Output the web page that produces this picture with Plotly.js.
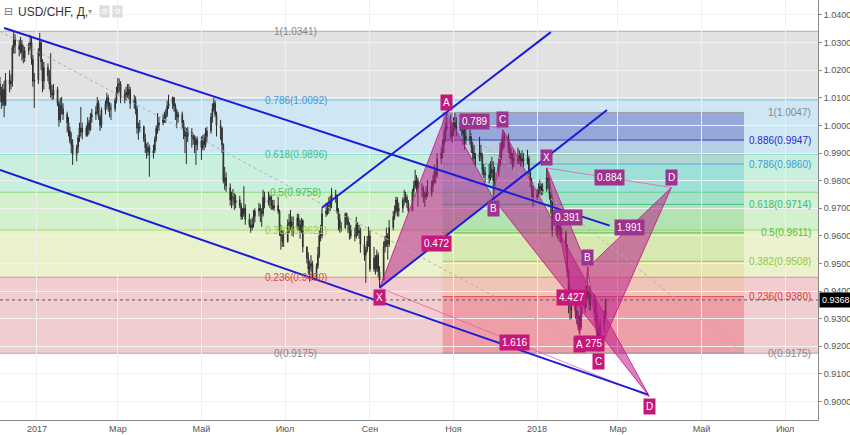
<!DOCTYPE html>
<html><head><meta charset="utf-8">
<script src="https://cdn.plot.ly/plotly-3.0.1.min.js"></script>
<style>html,body{margin:0;padding:0;background:#fff;}#chart{width:850px;height:435px;}</style>
</head><body><div id="chart"></div>
<script>
// ---- daily USD/CHF bars (price x 10000), weekdays from 2016-12-05 ----
const opens = [
10150,10110,10085,10130,10075, 10165,10150,10160,10280,10310, 10290,10275,10300,10265,10245, 10270,10290,10300,10240,10160,
10165,10270,10300,10230,10160, 10210,10180,10150,10120,10110, 10130,10080,10020,10070,10060, 10040,10010,9980,9945,9930,
9895,9920,9955,9990,9975, 9990,9965,10010,9985,10030, 10040,10050,10080,10030,10000, 10055,10080,10100,10070,10060,
10060,10090,10120,10150,10150, 10100,10110,10120,10110,10130, 10080,10090,10060,9990,9990, 9995,9950,9920,9905,9920,
9900,9910,9950,9990,10000, 10010,10020,10030,10040,10070, 10080,10100,10070,10050,10030, 10040,10010,9980,9960,9960,
9975,9960,9950,9950,9930, 9945,9920,9950,9930,9960, 9980,10030,10060,10080,10040, 10000,9990,9930,9800,9810,
9775,9730,9740,9740,9720, 9730,9710,9670,9680,9700, 9660,9640,9630,9640,9670, 9690,9700,9690,9680,9740,
9720,9730,9740,9710,9700, 9710,9690,9620,9600,9580, 9580,9640,9650,9650,9630, 9630,9665,9640,9620,9655,
9560,9520,9480,9490,9500, 9450,9490,9530,9600,9600, 9680,9690,9700,9710,9720, 9750,9740,9690,9660,9630,
9630,9680,9660,9640,9620, 9600,9600,9640,9610,9620, 9570,9530,9550,9580,9600, 9480,9520,9480,9530,9470,
9440,9560,9580,9600,9570, 9630,9670,9690,9730,9690, 9700,9730,9730,9740,9720, 9690,9760,9780,9800,9800,
9770,9770,9750,9740,9760, 9750,9780,9800,9830,9820, 9880,9900,9930,9950,9990, 10000,9960,9980,9990,10010,
9990,10010,9990,9970,9950, 9960,9950,9920,9900,9880, 9880,9900,9890,9840,9830, 9820,9810,9830,9840,9800,
9830,9860,9890,9920,9950, 9960,9920,9900,9880,9880, 9870,9880,9890,9870,9880, 9870,9880,9830,9800,9770,
9740,9750,9770,9780,9760, 9770,9810,9800,9750,9720, 9620,9630,9640,9620,9610, 9610,9560,9470,9350,9390,
9330,9330,9310,9300,9270, 9340,9360,9380,9400,9350, 9380,9360,9300,9250,9220, 9280,9310];
const highs = [
10175,10140,10150,10160,10190, 10200,10185,10290,10344,10330, 10310,10320,10310,10290,10285, 10300,10328,10320,10255,10190,
10280,10335,10310,10240,10230, 10225,10200,10262,10145,10150, 10140,10090,10100,10103,10080, 10050,10030,9995,9975,9950,
9930,9965,10010,10067,10010, 10000,10030,10020,10045,10060, 10070,10103,10090,10040,10065, 10090,10118,10110,10085,10080,
10100,10140,10172,10170,10160, 10130,10140,10150,10150,10140, 10111,10105,10070,10010,10020, 10000,9970,9935,9940,9930,
9930,9960,10000,10045,10030, 10040,10050,10060,10090,10111, 10105,10103,10080,10060,10050, 10050,10020,9995,9990,9995,
9990,9970,9965,9960,9960, 9960,9965,9970,9991,9995, 10045,10080,10100,10090,10050, 10020,9995,9935,9850,9830,
9790,9760,9770,9755,9750, 9745,9720,9700,9780,9715, 9680,9660,9665,9694,9700, 9720,9715,9700,9767,9760,
9760,9750,9745,9730,9730, 9742,9695,9640,9620,9620, 9660,9680,9694,9670,9670, 9680,9680,9658,9665,9660,
9561,9540,9510,9530,9510, 9500,9560,9620,9640,9700, 9720,9720,9740,9745,9774, 9767,9750,9700,9680,9650,
9684,9684,9670,9650,9640, 9630,9669,9650,9640,9630, 9600,9560,9600,9633,9620, 9560,9530,9550,9540,9490,
9580,9600,9630,9610,9658, 9690,9710,9742,9740,9720, 9740,9767,9760,9750,9730, 9770,9800,9839,9820,9810,
9790,9780,9760,9780,9803, 9800,9820,9860,9840,9900, 9920,9950,9980,10010,10046, 10040,10010,10030,10045,10030,
10031,10020,10000,9990,9990, 9984,9970,9940,9930,9900, 9959,9930,9900,9860,9850, 9860,9870,9886,9870,9850,
9880,9937,9950,9984,9975, 9970,9937,9920,9900,9910, 9919,9910,9900,9910,9900, 9912,9890,9840,9810,9790,
9770,9790,9803,9790,9790, 9846,9830,9810,9760,9742, 9669,9660,9650,9640,9630, 9620,9570,9480,9416,9400,
9369,9350,9330,9310,9350, 9390,9420,9485,9420,9394, 9390,9370,9320,9270,9300, 9330,9375];
const lows = [
10085,10060,10070,10030,10070, 10120,10130,10140,10260,10260, 10250,10260,10235,10225,10230, 10255,10275,10220,10140,10063,
10150,10250,10200,10120,10130, 10160,10130,10100,10092,10095, 10070,9995,10010,10040,10020, 9975,9960,9935,9900,9857,
9870,9901,9940,9960,9950, 9959,9960,9970,9980,10010, 10020,10040,10020,9980,9990, 10040,10060,10050,10030,10020,
10050,10080,10110,10120,10080, 10080,10090,10100,10095,10060, 10060,10040,9970,9948,9975, 9940,9900,9880,9890,9814,
9880,9900,9940,9970,9980, 10000,10009,10010,10030,10060, 10060,10050,10020,9990,10010, 9990,9950,9900,9860,9940,
9920,9930,9900,9857,9910, 9875,9910,9910,9920,9940, 9970,10010,10050,10030,9960, 9948,9900,9790,9767,9760,
9710,9700,9710,9694,9700, 9700,9658,9660,9670,9640, 9630,9611,9620,9630,9650, 9670,9650,9633,9670,9700,
9710,9700,9694,9694,9690, 9680,9600,9550,9560,9560, 9575,9610,9620,9600,9597, 9620,9620,9590,9610,9540,
9500,9460,9434,9470,9440, 9440,9480,9520,9580,9590, 9669,9675,9680,9690,9700, 9720,9680,9620,9611,9615,
9625,9640,9610,9586,9590, 9580,9590,9600,9590,9539, 9510,9430,9540,9560,9470, 9470,9460,9470,9450,9412,
9440,9540,9560,9514,9560, 9620,9658,9680,9670,9670, 9684,9710,9720,9700,9684, 9690,9740,9770,9760,9705,
9740,9720,9705,9730,9740, 9742,9760,9790,9790,9810, 9860,9880,9900,9940,9980, 9950,9937,9960,9980,9960,
9980,9960,9930,9912,9930, 9930,9900,9870,9860,9850, 9870,9870,9820,9810,9792, 9790,9800,9810,9735,9780,
9814,9850,9875,9910,9920, 9900,9880,9860,9839,9850, 9860,9860,9850,9860,9850, 9860,9820,9778,9740,9705,
9730,9742,9750,9745,9750, 9760,9770,9731,9680,9597, 9600,9590,9580,9575,9580, 9540,9450,9320,9297,9300,
9300,9280,9260,9242,9260, 9322,9340,9370,9330,9330, 9320,9280,9230,9181,9210, 9250,9300];
const closes = [
10110,10085,10130,10075,10165, 10150,10160,10280,10310,10290, 10275,10300,10265,10245,10270, 10290,10300,10240,10160,10165,
10270,10300,10230,10160,10210, 10180,10150,10120,10110,10130, 10080,10020,10070,10060,10040, 10010,9980,9945,9930,9895,
9920,9955,9990,9975,9990, 9965,10010,9985,10030,10040, 10050,10080,10030,10000,10055, 10080,10100,10070,10060,10060,
10090,10120,10150,10150,10100, 10110,10120,10110,10130,10080, 10090,10060,9990,9990,9995, 9950,9920,9905,9920,9900,
9910,9950,9990,10000,10010, 10020,10030,10040,10070,10080, 10100,10070,10050,10030,10040, 10010,9980,9960,9960,9980,
9960,9950,9950,9930,9945, 9920,9950,9930,9960,9980, 10030,10060,10080,10040,10000, 9990,9930,9800,9810,9780,
9730,9740,9740,9720,9730, 9710,9670,9680,9700,9660, 9640,9630,9640,9670,9690, 9700,9690,9680,9740,9720,
9730,9740,9710,9700,9710, 9690,9620,9600,9580,9580, 9640,9650,9650,9630,9630, 9665,9640,9620,9655,9560,
9520,9480,9490,9500,9450, 9490,9530,9600,9600,9680, 9690,9700,9710,9720,9750, 9740,9690,9660,9630,9630,
9680,9660,9640,9620,9600, 9600,9640,9610,9620,9570, 9530,9550,9580,9600,9480, 9520,9480,9530,9470,9440,
9560,9580,9600,9570,9630, 9670,9690,9730,9690,9700, 9730,9730,9740,9720,9690, 9760,9780,9800,9800,9770,
9770,9750,9740,9760,9750, 9780,9800,9830,9820,9880, 9900,9930,9950,9990,10000, 9960,9980,9990,10010,9990,
10010,9990,9970,9950,9960, 9950,9920,9900,9880,9880, 9900,9890,9840,9830,9820, 9810,9830,9840,9800,9830,
9860,9890,9920,9950,9960, 9920,9900,9880,9880,9870, 9880,9890,9870,9880,9870, 9880,9830,9800,9770,9740,
9750,9770,9780,9760,9770, 9810,9800,9750,9720,9620, 9630,9640,9620,9610,9610, 9560,9470,9350,9390,9330,
9330,9310,9300,9270,9340, 9360,9380,9400,9350,9380, 9360,9300,9250,9220,9280, 9310,9368];
const lastPrice = 0.9368;

// ---- Fibonacci retracements ----
const leftFibRatios = ['1','0.786','0.618','0.5','0.382','0.236','0'];
const leftFibPrices = [1.0341, 1.0092, 0.9896, 0.9758, 0.9621, 0.9450, 0.9175];
const leftFibTrend = {dates:['2016-12-05','2018-02-16'], prices:[1.0341, 0.9175]};
const rightFibRatios = ['1','0.886','0.786','0.618','0.5','0.382','0.236','0'];
const rightFibPrices = [1.0047, 0.9947, 0.9860, 0.9714, 0.9611, 0.9508, 0.9380, 0.9175];
const rightFibDates = ['2017-10-24','2018-06-01'];

// ---- trend lines ----
const upperChannel = {dates:['2016-12-08','2018-02-23'], prices:[1.0353, 0.9637]};
const lowerChannel = {dates:['2016-12-05','2018-03-23'], prices:[0.9839, 0.9025]};
const riseUpper = {dates:['2017-07-28','2018-01-11'], prices:[0.9702, 1.0338]};
const riseLower = {dates:['2017-09-08','2018-02-21'], prices:[0.9412, 1.0056]};

// ---- XABCD patterns ----
const pointNames = ['X','A','B','C','D'];
const p1Dates = ['2017-09-08','2017-10-27','2017-11-30','2017-12-07','2018-03-24'];
const p1Prices = [0.9412, 1.0046, 0.9735, 0.9984, 0.9018];
const p1Side = [-1, 1, -1, 1, -1];
const p1Ratios = ['0.472','0.789','4.427','1.616']; // XB, AC, BD, XD
const p2Dates = ['2018-01-08','2018-02-01','2018-02-07','2018-02-15','2018-04-09'];
const p2Prices = [0.9846, 0.9242, 0.9485, 0.9181, 0.9775];
const p2Side = [1, -1, 1, -1, 1];
const p2Ratios = ['0.391','1.275','1.991','0.884'];

// ---- axis ----
const xRange = ['2016-12-05','2018-07-25'];
const yRange = [0.89331, 1.04543];
const monthTickVals = ['2017-01-01','2017-03-01','2017-05-01','2017-07-01','2017-09-01','2017-11-01','2018-01-01','2018-03-01','2018-05-01','2018-07-01'];
const monthTickText = ['2017','Мар','Май','Июл','Сен','Ноя','2018','Мар','Май','Июл'];

// ---------------------------------------------------------------
const FONT = 'Liberation Sans, Arial, sans-serif';
const dates = [];
(function(){ let t = Date.UTC(2016,11,5); while (dates.length < closes.length) { const d = new Date(t); const wd = d.getUTCDay(); if (wd !== 0 && wd !== 6) dates.push(d.toISOString().slice(0,10)); t += 86400000; } })();
const sc = v => v / 10000;
const O = opens.map(sc), C = closes.map(sc);
const H = highs.map((v,i) => Math.max(sc(v), O[i], C[i]));
const L = lows.map((v,i) => Math.min(sc(v), O[i], C[i]));

function midDate(a, b){ const t = (Date.parse(a) + Date.parse(b)) / 2; return new Date(t).toISOString().slice(0,19).replace('T',' '); }

const leftBand = ['#e2e2e2','#cfe6f3','#c9f0df','#d4f0cc','#e9f2cd','#f2cdd0'];
const leftLine = ['#aaaaaa','#86c0e2','#72d2b4','#84d884','#b2d872','#e48c8c','#aaaaaa'];
const leftText = ['#888888','#3d9ad6','#3bbf9a','#4cc24c','#9ccc3c','#e04848','#888888'];
const rightBand = ['rgba(72,82,182,0.42)','rgba(100,120,160,0.22)','rgba(0,170,190,0.22)','rgba(60,180,80,0.22)','rgba(140,200,60,0.2)','rgba(230,150,40,0.15)','rgba(230,50,70,0.3)'];
const rightLine = ['#9e9e9e','#3a3ac8','#5aaad8','#38c092','#55c055','#96c842','#e04a58','#9e9e9e'];
const rightText = ['#888888','#2a2ad0','#3a9ad6','#35bb88','#4cc24c','#98c43a','#e03a3a','#888888'];

const shapes = [];
for (let i = 0; i < leftFibPrices.length - 1; i++)
  shapes.push({type:'rect', xref:'paper', yref:'y', x0:0, x1:1, y0:leftFibPrices[i+1], y1:leftFibPrices[i], fillcolor:leftBand[i], line:{width:0}, layer:'below'});
for (let i = 0; i < rightFibPrices.length - 1; i++)
  shapes.push({type:'rect', xref:'x', yref:'y', x0:rightFibDates[0], x1:rightFibDates[1], y0:rightFibPrices[i+1], y1:rightFibPrices[i], fillcolor:rightBand[i], line:{width:0}, layer:'below'});
leftFibPrices.forEach((p,i) => shapes.push({type:'line', xref:'paper', yref:'y', x0:0, x1:1, y0:p, y1:p, line:{color:leftLine[i], width:1}, layer:'below'}));
rightFibPrices.forEach((p,i) => shapes.push({type:'line', xref:'x', yref:'y', x0:rightFibDates[0], x1:rightFibDates[1], y0:p, y1:p, line:{color:rightLine[i], width:1}, layer:'below'}));
shapes.push({type:'line', xref:'paper', yref:'y', x0:0, x1:1, y0:lastPrice, y1:lastPrice, line:{color:'#555', width:1, dash:'dot'}, layer:'above'});

const traces = [];
traces.push({type:'candlestick', x:dates, open:O, high:H, low:L, close:C,
  increasing:{line:{color:'#2b2b2b', width:1}, fillcolor:'#8f968f'},
  decreasing:{line:{color:'#2b2b2b', width:1}, fillcolor:'#8f968f'},
  whiskerwidth:0, hoverinfo:'skip', showlegend:false});

const PAT_FILL = 'rgba(188,30,140,0.55)', PAT_LINE = 'rgba(200,24,126,0.85)';
function addPattern(d, p){
  [[0,1,2],[2,3,4]].forEach(t => traces.push({type:'scatter', mode:'lines', x:[d[t[0]],d[t[1]],d[t[2]],d[t[0]]], y:[p[t[0]],p[t[1]],p[t[2]],p[t[0]]], fill:'toself', fillcolor:PAT_FILL, line:{color:PAT_LINE, width:1}, hoverinfo:'skip', showlegend:false}));
  [[0,4],[1,3]].forEach(s => traces.push({type:'scatter', mode:'lines', x:[d[s[0]],d[s[1]]], y:[p[s[0]],p[s[1]]], line:{color:'rgba(225,90,170,0.75)', width:1}, hoverinfo:'skip', showlegend:false}));
}
addPattern(p1Dates, p1Prices);
addPattern(p2Dates, p2Prices);

[leftFibTrend, {dates:[rightFibDates[0], rightFibDates[1]], prices:[rightFibPrices[0], rightFibPrices[rightFibPrices.length-1]]}].forEach(l =>
  traces.push({type:'scatter', mode:'lines', x:l.dates, y:l.prices, line:{color:'#b0b0b0', width:1, dash:'dot'}, hoverinfo:'skip', showlegend:false}));
[upperChannel, lowerChannel, riseUpper, riseLower].forEach(l =>
  traces.push({type:'scatter', mode:'lines', x:l.dates, y:l.prices, line:{color:'#1b1bdc', width:2}, hoverinfo:'skip', showlegend:false}));

const annotations = [];
const pxPrice = (yRange[1] - yRange[0]) / 420;
leftFibPrices.forEach((p,i) => annotations.push({x:'2017-07-09', y:p, xref:'x', yref:'y', text:leftFibRatios[i] + '(' + p.toFixed(4) + ')', showarrow:false, xanchor:'center', yanchor:'middle', font:{family:FONT, size:10, color:leftText[i]}}));
rightFibPrices.forEach((p,i) => annotations.push({x:0.9939, y:p, xref:'paper', yref:'y', text:rightFibRatios[i] + '(' + p.toFixed(4) + ')', showarrow:false, xanchor:'right', yanchor:'middle', font:{family:FONT, size:10, color:rightText[i]}}));

const rfStart = Date.parse(rightFibDates[0]), rfEnd = Date.parse(rightFibDates[1]);
function labelColor(date, price){
  const t = Date.parse(date.replace(' ','T') + (date.length > 10 ? 'Z' : ''));
  if (t >= rfStart && t <= rfEnd && price < rightFibPrices[0] && price > rightFibPrices[6]) return '#9d3290';
  return '#c6177a';
}
function label(date, price, text, shift){
  annotations.push({x:date, y:price, xref:'x', yref:'y', text:text, showarrow:false, xanchor:'center', yanchor:'middle', yshift:shift,
    bgcolor:labelColor(date, price + shift * pxPrice), borderpad:2, font:{family:FONT, size:10, color:'#ffffff'}});
}
function addLabels(d, p, ratios, side){
  [[0,2],[1,3],[2,4],[0,4]].forEach((s,k) => label(midDate(d[s[0]], d[s[1]]), (p[s[0]] + p[s[1]]) / 2, ratios[k], 0));
  pointNames.forEach((n,i) => label(d[i], p[i], n, side[i] * 10));
}
addLabels(p1Dates, p1Prices, p1Ratios, p1Side);
addLabels(p2Dates, p2Prices, p2Ratios, p2Side);

annotations.push({x:1, y:lastPrice, xref:'paper', yref:'y', text:lastPrice.toFixed(4), showarrow:false, xanchor:'left', yanchor:'middle', xshift:1, bgcolor:'#000', borderpad:2, font:{family:FONT, size:9, color:'#fff'}});
annotations.push({x:0.002, y:1, xref:'paper', yref:'paper', text:'⊟', showarrow:false, xanchor:'left', yanchor:'top', yshift:-3, font:{family:'DejaVu Sans', size:11, color:'#777'}});
annotations.push({x:0.019, y:1, xref:'paper', yref:'paper', text:'USD/CHF, Д,', showarrow:false, xanchor:'left', yanchor:'top', yshift:-3, font:{family:FONT, size:12, color:'#333'}});
annotations.push({x:0.105, y:1, xref:'paper', yref:'paper', text:'▾', showarrow:false, xanchor:'left', yanchor:'top', yshift:-5, font:{family:'DejaVu Sans', size:8, color:'#999'}});
annotations.push({x:0.121, y:1, xref:'paper', yref:'paper', text:'⚙', showarrow:false, xanchor:'left', yanchor:'top', yshift:-5, bgcolor:'#dcdcdc', borderpad:1, font:{family:'DejaVu Sans', size:8, color:'#fff'}});
annotations.push({x:0.137, y:1, xref:'paper', yref:'paper', text:'⚙', showarrow:false, xanchor:'left', yanchor:'top', yshift:-5, bgcolor:'#dcdcdc', borderpad:1, font:{family:'DejaVu Sans', size:8, color:'#fff'}});

const layout = {
  width:850, height:435, margin:{l:0, r:32, t:0, b:15},
  paper_bgcolor:'#fff', plot_bgcolor:'#fff', showlegend:false,
  font:{family:FONT, size:9, color:'#555'},
  xaxis:{type:'date', range:xRange, tickmode:'array', tickvals:monthTickVals, ticktext:monthTickText,
    showgrid:true, gridcolor:'#efefef', showline:true, linecolor:'#8a8a8a', ticks:'', ticklabelstandoff:0,
    tickfont:{family:FONT, size:9, color:'#555'}, rangeslider:{visible:false}, fixedrange:true},
  yaxis:{side:'right', range:yRange, tick0:0.9, dtick:0.01, tickformat:'.4f', showgrid:true, gridcolor:'#f2f2f2',
    showline:true, linecolor:'#8a8a8a', ticks:'outside', ticklen:3, tickcolor:'#8a8a8a', zeroline:false,
    tickfont:{family:FONT, size:9, color:'#555'}, fixedrange:true},
  shapes:shapes, annotations:annotations
};
Plotly.newPlot('chart', traces, layout, {displayModeBar:false, staticPlot:true});
</script></body></html>
